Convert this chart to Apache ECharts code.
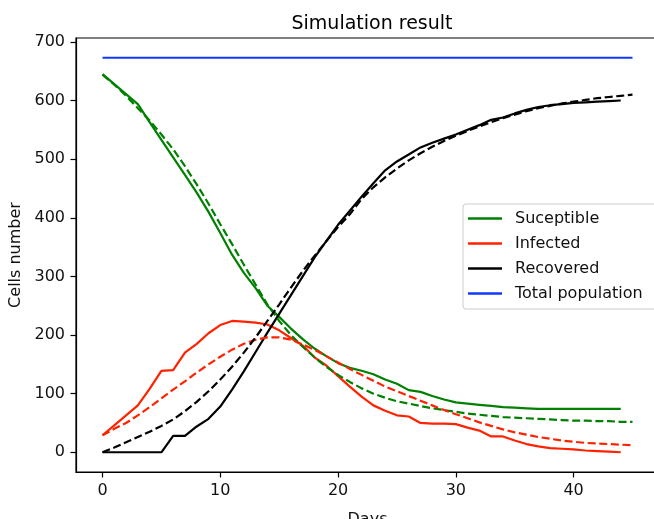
<!DOCTYPE html>
<html>
<head>
<meta charset="utf-8">
<script src="https://cdn.jsdelivr.net/npm/echarts@6/dist/echarts.min.js"></script>
<style>
  html, body { margin: 0; padding: 0; background: #fff; }
  #chart { width: 654px; height: 519px; }
</style>
</head>
<body>
<div id="chart"></div>
<script>
// measured data, one value per day (index = day)
const susceptible = [645, 628, 611, 594, 563, 533, 503, 473, 443, 410, 374, 337, 306, 280, 250, 231, 211, 193, 177, 164,
  152, 144, 139, 133, 124, 117, 106, 103, 96, 90, 85, 83, 81, 79, 77, 76, 75, 74, 74, 74, 74, 74, 74, 74, 74];
const infected = [29, 46, 63, 80, 108, 139, 140, 170, 185, 203, 217, 224, 223, 221, 218, 208, 195, 182, 162, 148,
  130, 112, 95, 80, 71, 63, 61, 50, 49, 49, 48, 42, 37, 27, 27, 20, 14, 10, 7, 6, 5, 3, 2, 1, 0];
const recovered = [0, 0, 0, 0, 0, 0, 28, 28, 44, 57, 78, 107, 138, 171, 204, 236, 268, 300, 332, 360,
  388, 412, 436, 459, 481, 496, 508, 520, 528, 535, 542, 550, 558, 567, 571, 578, 584, 589, 592, 594, 596, 597, 598, 599, 600];

// fitted model, days 0..45
const susceptibleFit = [644, 627, 608, 587, 566, 542, 517, 488, 457, 424, 389, 355, 320, 286, 252, 224, 200, 180, 162, 146,
  132, 120, 109, 100, 93, 87, 83, 79, 75, 72, 69, 66, 64, 62, 60, 59, 58, 57, 56, 55, 54, 54, 53, 53, 52, 52];
const infectedFit = [29, 40, 50, 63, 77, 92, 107, 121, 136, 150, 163, 175, 185, 192, 196, 196, 192, 184, 175, 164,
  153, 142, 132, 122, 112, 104, 96, 88, 80, 72, 65, 58, 51, 45, 39, 34, 30, 26, 23, 20, 18, 16, 15, 14, 13, 12];
const recoveredFit = [0, 8, 17, 26, 35, 45, 56, 70, 86, 104, 124, 146, 170, 196, 224, 252, 281, 309, 335, 360,
  384, 406, 432, 452, 469, 484, 498, 510, 521, 531, 540, 548, 556, 563, 570, 576, 582, 587, 591, 595, 598, 601, 604, 606, 608, 610];

const totalDays = [0, 45];
const totalPopulation = [673, 673];

const xTicks = [0, 10, 20, 30, 40];
const yTicks = [0, 100, 200, 300, 400, 500, 600, 700];

const pairs = arr => arr.map((v, i) => [i, v]);

const font = 'DejaVu Sans';
const green = '#008000';
const red = '#ff2200';
const black = '#000000';
const blue = '#1038ff';

function line(name, data, color, dashed) {
  return {
    name: name,
    type: 'line',
    data: data,
    showSymbol: false,
    symbol: 'none',
    color: color,
    itemStyle: { color: color },
    lineStyle: { color: color, width: 2.2, type: dashed ? [8, 3.6] : 'solid' },
    emphasis: { disabled: true }
  };
}

const chart = echarts.init(document.getElementById('chart'), null, { renderer: 'canvas' });

chart.setOption({
  animation: false,
  backgroundColor: '#fff',
  title: {
    text: 'Simulation result',
    left: 367,
    textAlign: 'center',
    top: 10,
    textStyle: { fontFamily: font, fontSize: 19, fontWeight: 'normal', color: '#000' }
  },
  grid: {
    left: 76, top: 38, width: 583, height: 434,
    outerBoundsMode: 'none',
    containLabel: false,
    show: true, borderColor: '#000', borderWidth: 1.2, backgroundColor: 'transparent'
  },
  legend: {
    data: ['Suceptible', 'Infected', 'Recovered', 'Total population'],
    orient: 'vertical',
    left: 463,
    top: 204,
    icon: 'rect',
    itemWidth: 34,
    itemHeight: 2.4,
    itemGap: 8,
    padding: [6, 30, 7, 5],
    backgroundColor: 'rgba(255,255,255,0.85)',
    borderColor: '#cccccc',
    borderWidth: 1,
    borderRadius: 3,
    selectedMode: false,
    textStyle: { fontFamily: font, fontSize: 16, color: '#111', lineHeight: 17, padding: [0, 0, 0, 8] }
  },
  xAxis: {
    type: 'value',
    min: -2.25,
    max: 47.25,
    name: 'Days',
    nameLocation: 'middle',
    nameGap: 40,
    nameTextStyle: { fontFamily: font, fontSize: 16, color: '#111' },
    axisLine: { show: true, onZero: false, lineStyle: { color: '#000', width: 1.2 } },
    axisTick: { show: true, length: 5.5, customValues: xTicks, lineStyle: { color: '#000', width: 1.2 } },
    axisLabel: { customValues: xTicks, margin: 11, fontFamily: font, fontSize: 16, color: '#111' },
    splitLine: { show: false }
  },
  yAxis: {
    type: 'value',
    min: -33.65,
    max: 706.65,
    name: 'Cells number',
    nameLocation: 'middle',
    nameGap: 52,
    nameTextStyle: { fontFamily: font, fontSize: 16, color: '#111' },
    axisLine: { show: true, onZero: false, lineStyle: { color: '#000', width: 1.2 } },
    axisTick: { show: true, length: 5.5, customValues: yTicks, lineStyle: { color: '#000', width: 1.2 } },
    axisLabel: { customValues: yTicks, margin: 11, fontFamily: font, fontSize: 16, color: '#111' },
    splitLine: { show: false }
  },
  series: [
    line('Suceptible', pairs(susceptible), green, false),
    line('Infected', pairs(infected), red, false),
    line('Recovered', pairs(recovered), black, false),
    line('Suceptible fit', pairs(susceptibleFit), green, true),
    line('Infected fit', pairs(infectedFit), red, true),
    line('Recovered fit', pairs(recoveredFit), black, true),
    line('Total population', totalDays.map((d, i) => [d, totalPopulation[i]]), blue, false)
  ]
});
</script>
</body>
</html>
